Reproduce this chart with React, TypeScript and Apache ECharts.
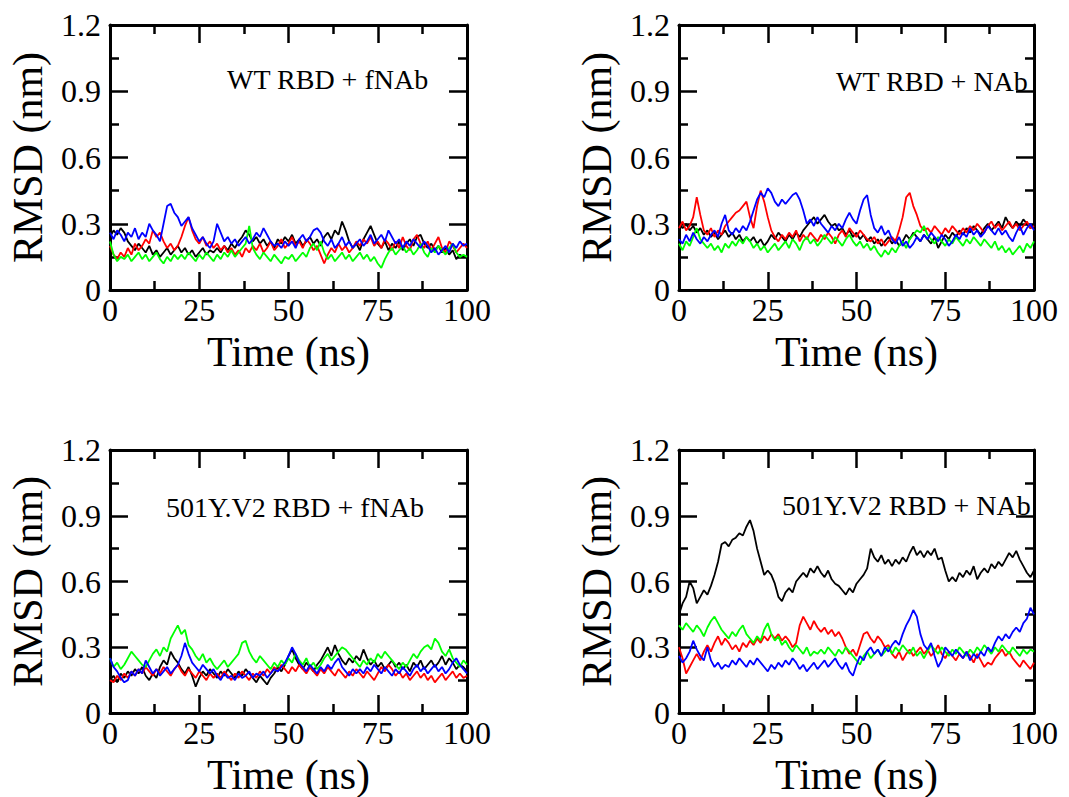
import React, { useEffect, useRef } from "react";
import * as echarts from "echarts";

// Time axis: samples every 1 ns from 0 to 100 ns
const TIME_STEP_NS = 1;

const X_TICKS = [0, 25, 50, 75, 100];
const Y_TICKS = [0, 0.3, 0.6, 0.9, 1.2];

const PANEL_TITLES = ["WT RBD + fNAb", "WT RBD + NAb", "501Y.V2 RBD + fNAb", "501Y.V2 RBD + NAb"];
const SERIES_NAMES = ["black", "red", "green", "blue"];
const SERIES_COLORS = ["#000000", "#ff0000", "#00ff00", "#0000ff"];

// ---- Panel 1: WT RBD + fNAb ----
const p1Black = [
  0.24, 0.27, 0.25, 0.28, 0.26, 0.22, 0.20, 0.18, 0.21, 0.19,
  0.17, 0.20, 0.16, 0.18, 0.15, 0.17, 0.19, 0.16, 0.18, 0.20,
  0.17, 0.19, 0.16, 0.18, 0.15, 0.17, 0.19, 0.16, 0.18, 0.17,
  0.19, 0.17, 0.20, 0.18, 0.21, 0.19, 0.22, 0.24, 0.27, 0.25,
  0.22, 0.24, 0.21, 0.23, 0.20, 0.22, 0.19, 0.23, 0.21, 0.24,
  0.22, 0.25, 0.21, 0.23, 0.20, 0.22, 0.24, 0.21, 0.23, 0.20,
  0.24, 0.26, 0.23, 0.27, 0.25, 0.31, 0.27, 0.22, 0.19, 0.21,
  0.18, 0.23, 0.26, 0.29, 0.25, 0.21, 0.19, 0.22, 0.18, 0.21,
  0.19, 0.22, 0.18, 0.21, 0.23, 0.20, 0.24, 0.25, 0.21, 0.19,
  0.21, 0.18, 0.20, 0.17, 0.19, 0.16, 0.18, 0.14, 0.16, 0.15,
  0.15,
];
const p1Red = [
  0.20, 0.16, 0.14, 0.17, 0.15, 0.19, 0.16, 0.21, 0.18, 0.20,
  0.23, 0.21, 0.27, 0.24, 0.26, 0.22, 0.19, 0.21, 0.18, 0.20,
  0.24, 0.29, 0.33, 0.27, 0.23, 0.21, 0.24, 0.20, 0.22, 0.19,
  0.21, 0.18, 0.20, 0.17, 0.19, 0.16, 0.18, 0.15, 0.19, 0.17,
  0.20, 0.18, 0.21, 0.17, 0.19, 0.22, 0.18, 0.20, 0.23, 0.19,
  0.21, 0.24, 0.20, 0.22, 0.19, 0.23, 0.21, 0.18, 0.20, 0.16,
  0.12, 0.16, 0.19, 0.17, 0.21, 0.18, 0.20, 0.17, 0.19, 0.22,
  0.20, 0.23, 0.21, 0.24, 0.20, 0.22, 0.19, 0.23, 0.21, 0.18,
  0.22, 0.19, 0.24, 0.20, 0.18, 0.23, 0.25, 0.21, 0.19, 0.22,
  0.18, 0.21, 0.24, 0.19, 0.17, 0.22, 0.20, 0.17, 0.19, 0.21,
  0.19,
];
const p1Green = [
  0.22, 0.16, 0.13, 0.15, 0.14, 0.16, 0.13, 0.15, 0.17, 0.14,
  0.16, 0.13, 0.15, 0.17, 0.14, 0.12, 0.15, 0.13, 0.16, 0.14,
  0.16, 0.14, 0.17, 0.15, 0.13, 0.16, 0.14, 0.17, 0.15, 0.13,
  0.16, 0.14, 0.17, 0.15, 0.18, 0.15, 0.17, 0.19, 0.21, 0.29,
  0.19, 0.16, 0.14, 0.17, 0.15, 0.13, 0.16, 0.14, 0.12, 0.15,
  0.14, 0.16, 0.13, 0.15, 0.17, 0.15, 0.19, 0.21, 0.18, 0.22,
  0.17, 0.14, 0.16, 0.13, 0.15, 0.17, 0.14, 0.16, 0.13, 0.15,
  0.17, 0.14, 0.16, 0.13, 0.15, 0.12, 0.10, 0.14, 0.17, 0.19,
  0.16, 0.18, 0.20, 0.17, 0.19, 0.16, 0.18, 0.21, 0.17, 0.15,
  0.19, 0.17, 0.20, 0.18, 0.16, 0.19, 0.21, 0.17, 0.15, 0.16,
  0.15,
];
const p1Blue = [
  0.26, 0.23, 0.27, 0.25, 0.22, 0.26, 0.24, 0.28, 0.23, 0.26,
  0.24, 0.30, 0.27, 0.25, 0.22, 0.30, 0.38, 0.39, 0.35, 0.33,
  0.29, 0.31, 0.33, 0.28, 0.25, 0.22, 0.24, 0.21, 0.19, 0.22,
  0.30, 0.26, 0.22, 0.24, 0.21, 0.23, 0.20, 0.22, 0.24, 0.21,
  0.23, 0.26, 0.24, 0.28, 0.25, 0.22, 0.20, 0.21, 0.19, 0.22,
  0.20, 0.22, 0.19, 0.23, 0.25, 0.22, 0.24, 0.27, 0.28, 0.26,
  0.22, 0.20, 0.23, 0.19, 0.21, 0.24, 0.20, 0.22, 0.19, 0.21,
  0.23, 0.20, 0.22, 0.25, 0.21, 0.23, 0.25, 0.22, 0.27, 0.24,
  0.21, 0.23, 0.19, 0.22, 0.20, 0.23, 0.21, 0.19, 0.22, 0.20,
  0.17, 0.19, 0.16, 0.18, 0.20, 0.17, 0.21, 0.19, 0.22, 0.20,
  0.21,
];

// ---- Panel 2: WT RBD + NAb ----
const p2Black = [
  0.30, 0.28, 0.30, 0.27, 0.29, 0.26, 0.28, 0.25, 0.27, 0.24,
  0.26, 0.23, 0.25, 0.27, 0.24, 0.26, 0.23, 0.25, 0.22, 0.24,
  0.22, 0.24, 0.21, 0.23, 0.20, 0.22, 0.25, 0.23, 0.26, 0.24,
  0.22, 0.25, 0.23, 0.26, 0.24, 0.27, 0.29, 0.31, 0.33, 0.30,
  0.32, 0.34, 0.31, 0.29, 0.30, 0.27, 0.28, 0.25, 0.27, 0.24,
  0.26, 0.23, 0.25, 0.22, 0.24, 0.21, 0.23, 0.20, 0.22, 0.24,
  0.21, 0.23, 0.20, 0.22, 0.25, 0.23, 0.26, 0.24, 0.22, 0.25,
  0.23, 0.21, 0.24, 0.19, 0.22, 0.25, 0.23, 0.26, 0.24, 0.27,
  0.25, 0.28, 0.26, 0.29, 0.27, 0.25, 0.28, 0.30, 0.27, 0.29,
  0.31, 0.28, 0.33, 0.30, 0.28, 0.31, 0.29, 0.32, 0.30, 0.28,
  0.30,
];
const p2Red = [
  0.28, 0.31, 0.27, 0.29, 0.33, 0.42, 0.34, 0.27, 0.25, 0.28,
  0.24, 0.27, 0.25, 0.29, 0.31, 0.33, 0.35, 0.36, 0.38, 0.40,
  0.33, 0.28, 0.38, 0.45, 0.40, 0.33, 0.27, 0.24, 0.22, 0.25,
  0.23, 0.26, 0.24, 0.27, 0.22, 0.25, 0.23, 0.26, 0.24, 0.22,
  0.25, 0.23, 0.26, 0.24, 0.21, 0.25, 0.27, 0.24, 0.28, 0.26,
  0.24, 0.27, 0.25, 0.23, 0.22, 0.24, 0.21, 0.23, 0.20, 0.22,
  0.24, 0.22, 0.27, 0.33, 0.42, 0.44, 0.38, 0.34, 0.29, 0.27,
  0.28, 0.26, 0.29, 0.27, 0.25, 0.28, 0.26, 0.29, 0.27, 0.25,
  0.28, 0.26, 0.29, 0.27, 0.30, 0.28, 0.26, 0.29, 0.31, 0.28,
  0.30, 0.27, 0.29, 0.31, 0.28, 0.30, 0.27, 0.29, 0.31, 0.28,
  0.29,
];
const p2Green = [
  0.21, 0.18, 0.22, 0.20, 0.24, 0.28, 0.23, 0.21, 0.19, 0.21,
  0.18, 0.20, 0.17, 0.21, 0.19, 0.22, 0.20, 0.23, 0.21, 0.24,
  0.22, 0.19, 0.21, 0.18, 0.20, 0.17, 0.19, 0.21, 0.18, 0.20,
  0.22, 0.19, 0.23, 0.21, 0.18, 0.22, 0.24, 0.21, 0.23, 0.20,
  0.22, 0.25, 0.23, 0.21, 0.24, 0.22, 0.20, 0.23, 0.25, 0.22,
  0.20, 0.22, 0.19, 0.21, 0.18, 0.20, 0.17, 0.15, 0.18, 0.16,
  0.19, 0.17, 0.20, 0.22, 0.19, 0.23, 0.25, 0.27, 0.26, 0.29,
  0.25, 0.23, 0.21, 0.24, 0.22, 0.20, 0.23, 0.21, 0.24, 0.22,
  0.20, 0.23, 0.21, 0.24, 0.22, 0.20, 0.23, 0.21, 0.19, 0.22,
  0.18, 0.20, 0.17, 0.19, 0.16, 0.18, 0.20, 0.17, 0.21, 0.19,
  0.22,
];
const p2Blue = [
  0.23, 0.21, 0.25, 0.22, 0.26, 0.23, 0.21, 0.24, 0.22, 0.25,
  0.27, 0.24, 0.30, 0.34, 0.27, 0.25, 0.28, 0.26, 0.29, 0.27,
  0.31, 0.36, 0.41, 0.44, 0.42, 0.46, 0.44, 0.40, 0.38, 0.41,
  0.39, 0.41, 0.43, 0.44, 0.41, 0.36, 0.30, 0.32, 0.29, 0.33,
  0.30, 0.28, 0.26, 0.29, 0.27, 0.30, 0.28, 0.32, 0.35, 0.32,
  0.30, 0.36, 0.41, 0.43, 0.34, 0.28, 0.26, 0.29, 0.25, 0.27,
  0.23, 0.21, 0.24, 0.20, 0.22, 0.19, 0.21, 0.24, 0.22, 0.25,
  0.23, 0.26, 0.24, 0.22, 0.25, 0.23, 0.20, 0.22, 0.25, 0.23,
  0.26, 0.24, 0.28, 0.25, 0.27, 0.24, 0.26, 0.29, 0.27, 0.25,
  0.28, 0.25, 0.27, 0.24, 0.22, 0.26, 0.29, 0.25, 0.28, 0.30,
  0.27,
];

// ---- Panel 3: 501Y.V2 RBD + fNAb ----
const p3Black = [
  0.15, 0.17, 0.14, 0.18, 0.16, 0.19, 0.17, 0.20, 0.18, 0.21,
  0.17, 0.15, 0.18, 0.16, 0.21, 0.24, 0.22, 0.28, 0.25, 0.23,
  0.20, 0.18, 0.21, 0.17, 0.12, 0.16, 0.19, 0.17, 0.20, 0.18,
  0.16, 0.19, 0.17, 0.20, 0.18, 0.16, 0.19, 0.17, 0.20, 0.18,
  0.16, 0.14, 0.17, 0.15, 0.13, 0.16, 0.18, 0.21, 0.19, 0.22,
  0.26, 0.29, 0.25, 0.22, 0.20, 0.23, 0.21, 0.19, 0.22, 0.24,
  0.27, 0.30, 0.26, 0.31, 0.27, 0.24, 0.22, 0.25, 0.23, 0.26,
  0.24, 0.29, 0.25, 0.22, 0.24, 0.21, 0.23, 0.20, 0.22, 0.24,
  0.21, 0.23, 0.20, 0.22, 0.19, 0.23, 0.21, 0.24, 0.20, 0.22,
  0.24, 0.21, 0.23, 0.26, 0.22, 0.25, 0.23, 0.20, 0.22, 0.21,
  0.19,
];
const p3Red = [
  0.15, 0.14, 0.17, 0.15, 0.18, 0.16, 0.19, 0.17, 0.20, 0.18,
  0.21, 0.19, 0.17, 0.20, 0.18, 0.21, 0.19, 0.17, 0.20, 0.22,
  0.19, 0.17, 0.20, 0.18, 0.16, 0.19, 0.17, 0.15, 0.18, 0.16,
  0.18, 0.16, 0.19, 0.17, 0.15, 0.18, 0.16, 0.19, 0.17, 0.15,
  0.18, 0.16, 0.19, 0.17, 0.20, 0.18, 0.21, 0.19, 0.22, 0.20,
  0.18, 0.21, 0.19, 0.22, 0.20, 0.18, 0.21, 0.19, 0.17, 0.20,
  0.18, 0.21, 0.19, 0.17, 0.20, 0.18, 0.16, 0.19, 0.17, 0.20,
  0.18, 0.16, 0.19, 0.17, 0.15, 0.18, 0.21, 0.19, 0.22, 0.20,
  0.17, 0.19, 0.16, 0.18, 0.15, 0.17, 0.19, 0.16, 0.18, 0.15,
  0.17, 0.14, 0.16, 0.18, 0.15, 0.17, 0.19, 0.16, 0.18, 0.16,
  0.17,
];
const p3Green = [
  0.25, 0.21, 0.23, 0.20, 0.22, 0.25, 0.28, 0.26, 0.24, 0.22,
  0.21, 0.24, 0.27, 0.29, 0.26, 0.30, 0.28, 0.34, 0.37, 0.40,
  0.36, 0.38, 0.31, 0.29, 0.26, 0.24, 0.27, 0.23, 0.25, 0.22,
  0.20, 0.22, 0.24, 0.21, 0.23, 0.25, 0.27, 0.32, 0.33, 0.28,
  0.25, 0.23, 0.26, 0.24, 0.22, 0.20, 0.23, 0.21, 0.24, 0.22,
  0.25, 0.23, 0.27, 0.24, 0.22, 0.25, 0.21, 0.23, 0.20, 0.22,
  0.25, 0.27, 0.24, 0.26, 0.28, 0.30, 0.29, 0.27, 0.25, 0.23,
  0.21, 0.24, 0.22, 0.25, 0.23, 0.27, 0.25, 0.28, 0.26, 0.24,
  0.22, 0.20, 0.23, 0.21, 0.24, 0.27, 0.25, 0.28, 0.30, 0.31,
  0.29, 0.34, 0.32, 0.28, 0.26, 0.29, 0.25, 0.23, 0.21, 0.24,
  0.22,
];
const p3Blue = [
  0.25, 0.21, 0.19, 0.16, 0.14, 0.15, 0.19, 0.17, 0.20, 0.18,
  0.24, 0.21, 0.18, 0.20, 0.17, 0.19, 0.21, 0.18, 0.20, 0.22,
  0.26, 0.32, 0.27, 0.23, 0.21, 0.19, 0.22, 0.20, 0.18, 0.20,
  0.17, 0.15, 0.18, 0.16, 0.17, 0.15, 0.18, 0.16, 0.17, 0.19,
  0.16, 0.18, 0.17, 0.19, 0.16, 0.18, 0.20, 0.19, 0.21, 0.23,
  0.26, 0.30, 0.27, 0.23, 0.21, 0.19, 0.22, 0.20, 0.18, 0.21,
  0.19, 0.22, 0.20, 0.23, 0.25, 0.21, 0.19, 0.17, 0.20, 0.18,
  0.20, 0.18, 0.21, 0.19, 0.22, 0.20, 0.18, 0.21, 0.19, 0.17,
  0.20, 0.18, 0.21, 0.19, 0.17, 0.20, 0.22, 0.19, 0.21, 0.18,
  0.20, 0.22, 0.19, 0.21, 0.18, 0.20, 0.23, 0.25, 0.22, 0.20,
  0.18,
];

// ---- Panel 4: 501Y.V2 RBD + NAb ----
const p4Black = [
  0.45, 0.50, 0.53, 0.60, 0.57, 0.50, 0.53, 0.56, 0.54, 0.58,
  0.63, 0.69, 0.77, 0.78, 0.76, 0.79, 0.80, 0.82, 0.81, 0.85,
  0.88, 0.83, 0.75, 0.69, 0.63, 0.65, 0.63, 0.59, 0.53, 0.51,
  0.55, 0.57, 0.55, 0.60, 0.62, 0.64, 0.62, 0.66, 0.64, 0.67,
  0.64, 0.62, 0.65, 0.61, 0.59, 0.58, 0.56, 0.54, 0.57, 0.55,
  0.59, 0.61, 0.63, 0.66, 0.75, 0.71, 0.69, 0.72, 0.68, 0.70,
  0.67, 0.70, 0.68, 0.71, 0.69, 0.73, 0.76, 0.72, 0.74, 0.71,
  0.74, 0.72, 0.75, 0.70, 0.71, 0.65, 0.60, 0.62, 0.60, 0.64,
  0.62, 0.65, 0.63, 0.67, 0.61, 0.64, 0.66, 0.64, 0.68, 0.66,
  0.69, 0.67, 0.70, 0.73, 0.71, 0.74, 0.70, 0.67, 0.64, 0.62,
  0.65,
];
const p4Red = [
  0.30, 0.25, 0.18, 0.21, 0.24, 0.27, 0.24, 0.28, 0.31, 0.28,
  0.32, 0.35, 0.31, 0.34, 0.32, 0.29, 0.31, 0.28, 0.32, 0.30,
  0.33, 0.31, 0.34, 0.32, 0.35, 0.33, 0.36, 0.34, 0.36, 0.33,
  0.35, 0.33, 0.30, 0.32, 0.40, 0.44, 0.41, 0.38, 0.42, 0.39,
  0.37, 0.39, 0.36, 0.38, 0.35, 0.37, 0.34, 0.30, 0.27, 0.29,
  0.26, 0.31, 0.36, 0.37, 0.34, 0.32, 0.35, 0.33, 0.30, 0.31,
  0.27, 0.25, 0.28, 0.24, 0.27, 0.29, 0.26, 0.28, 0.30, 0.27,
  0.29, 0.26, 0.28, 0.31, 0.27, 0.25, 0.28, 0.26, 0.24, 0.27,
  0.25, 0.28, 0.26, 0.23, 0.27, 0.24, 0.21, 0.23, 0.22, 0.25,
  0.27, 0.29, 0.26, 0.28, 0.25, 0.23, 0.21, 0.24, 0.22, 0.20,
  0.23,
];
const p4Green = [
  0.40, 0.38, 0.41, 0.39, 0.37, 0.40, 0.38, 0.35, 0.39, 0.42,
  0.44, 0.41, 0.38, 0.36, 0.34, 0.37, 0.35, 0.38, 0.40, 0.36,
  0.34, 0.32, 0.35, 0.33, 0.38, 0.41, 0.36, 0.33, 0.35, 0.31,
  0.33, 0.30, 0.28, 0.31, 0.29, 0.27, 0.30, 0.26, 0.28, 0.27,
  0.29, 0.27, 0.30, 0.28, 0.26, 0.29, 0.27, 0.30, 0.28, 0.26,
  0.24, 0.22, 0.26, 0.28, 0.25, 0.27, 0.29, 0.26, 0.28, 0.30,
  0.27, 0.30, 0.28, 0.31, 0.29, 0.27, 0.30, 0.26, 0.28, 0.25,
  0.28, 0.31, 0.29, 0.27, 0.30, 0.28, 0.26, 0.29, 0.27, 0.30,
  0.28, 0.26, 0.29, 0.27, 0.30, 0.28, 0.31, 0.29, 0.27, 0.30,
  0.28, 0.31, 0.29, 0.27, 0.30, 0.28, 0.26, 0.29, 0.27, 0.29,
  0.28,
];
const p4Blue = [
  0.26, 0.23, 0.25, 0.28, 0.33, 0.29, 0.26, 0.24, 0.30, 0.24,
  0.21, 0.23, 0.20, 0.22, 0.21, 0.24, 0.22, 0.25, 0.23, 0.21,
  0.24, 0.22, 0.25, 0.23, 0.21, 0.19, 0.22, 0.20, 0.23, 0.21,
  0.24, 0.22, 0.25, 0.23, 0.20, 0.22, 0.19, 0.21, 0.23, 0.20,
  0.22, 0.24, 0.21, 0.23, 0.25, 0.22, 0.20, 0.23, 0.19, 0.17,
  0.22, 0.26, 0.24, 0.28, 0.30, 0.27, 0.29, 0.26, 0.30, 0.28,
  0.31, 0.33, 0.31, 0.36, 0.40, 0.43, 0.47, 0.44, 0.36, 0.31,
  0.29, 0.32, 0.26, 0.21, 0.24, 0.30, 0.28, 0.26, 0.29, 0.27,
  0.25, 0.28, 0.24, 0.27, 0.25, 0.28, 0.26, 0.30, 0.28, 0.32,
  0.35, 0.33, 0.36, 0.34, 0.37, 0.39, 0.37, 0.41, 0.43, 0.48,
  0.45,
];

const PANEL_DATA = [
  [p1Black, p1Red, p1Green, p1Blue],
  [p2Black, p2Red, p2Green, p2Blue],
  [p3Black, p3Red, p3Green, p3Blue],
  [p4Black, p4Red, p4Green, p4Blue],
];

const FONT = "Liberation Serif";

const GRIDS = [
  { left: 110, top: 25, width: 357, height: 265 },
  { left: 679, top: 25, width: 355, height: 265 },
  { left: 110, top: 450, width: 357, height: 265 },
  { left: 679, top: 450, width: 355, height: 265 },
];
const TITLE_POS = [
  { x: 227, y: 79 },
  { x: 836, y: 81 },
  { x: 166, y: 507 },
  { x: 782, y: 505 },
];

function buildOption() {
  const xAxis: any[] = [];
  const yAxis: any[] = [];
  const series: any[] = [];
  const lineStyle = { color: "#000", width: 3 };
  const tickStyle = { color: "#000", width: 2.5 };
  GRIDS.forEach((_, g) => {
    const base = {
      gridIndex: g,
      type: "value",
      min: X_TICKS[0],
      max: X_TICKS[X_TICKS.length - 1],
      interval: X_TICKS[1] - X_TICKS[0],
      axisLine: { show: true, onZero: false, lineStyle },
      axisTick: { show: true, inside: true, length: 18, lineStyle: tickStyle },
      minorTick: { show: true, splitNumber: 2, length: 9, lineStyle: tickStyle },
      splitLine: { show: false },
    };
    xAxis.push({
      ...base,
      position: "bottom",
      axisLabel: { show: true, fontSize: 32, color: "#000", fontFamily: FONT, margin: 4 },
      name: "Time (ns)",
      nameLocation: "middle",
      nameGap: 41,
      nameTextStyle: { fontSize: 42, color: "#000", fontFamily: FONT },
    });
    xAxis.push({ ...base, position: "top", axisLabel: { show: false } });
    const ybase = {
      gridIndex: g,
      type: "value",
      min: Y_TICKS[0],
      max: Y_TICKS[Y_TICKS.length - 1],
      interval: Y_TICKS[1] - Y_TICKS[0],
      axisLine: { show: true, onZero: false, lineStyle },
      axisTick: { show: true, inside: true, length: 18, lineStyle: tickStyle },
      minorTick: { show: true, splitNumber: 2, length: 9, lineStyle: tickStyle },
      splitLine: { show: false },
    };
    yAxis.push({
      ...ybase,
      position: "left",
      axisLabel: {
        show: true,
        fontSize: 32,
        color: "#000",
        fontFamily: FONT,
        margin: 9,
        formatter: (v: number) => String(Math.round(v * 10) / 10),
      },
      name: "RMSD (nm)",
      nameLocation: "middle",
      nameGap: 61,
      nameTextStyle: { fontSize: 42, color: "#000", fontFamily: FONT },
    });
    yAxis.push({ ...ybase, position: "right", axisLabel: { show: false } });

    PANEL_DATA[g].forEach((vals, s) => {
      series.push({
        type: "line",
        name: `${PANEL_TITLES[g]} ${SERIES_NAMES[s]}`,
        xAxisIndex: 2 * g,
        yAxisIndex: 2 * g,
        data: vals.map((v, i) => [i * TIME_STEP_NS, v]),
        showSymbol: false,
        symbol: "none",
        clip: true,
        lineStyle: { color: SERIES_COLORS[s], width: 1.8 },
        itemStyle: { color: SERIES_COLORS[s] },
      });
    });
  });

  const graphic = PANEL_TITLES.map((t, g) => ({
    type: "text",
    x: TITLE_POS[g].x,
    y: TITLE_POS[g].y,
    z: 100,
    style: {
      text: t,
      fontSize: 28,
      fontFamily: FONT,
      fill: "#000",
      align: "left",
      verticalAlign: "middle",
    },
  }));

  return {
    animation: false,
    backgroundColor: "#fff",
    textStyle: { fontFamily: FONT, color: "#000" },
    grid: GRIDS.map((g) => ({ ...g, containLabel: false })),
    xAxis,
    yAxis,
    series,
    graphic,
  };
}

export default function App() {
  const ref = useRef<HTMLDivElement>(null);
  useEffect(() => {
    if (!ref.current) return;
    const chart = echarts.init(ref.current, undefined, { renderer: "svg" });
    chart.setOption(buildOption() as any);
    return () => chart.dispose();
  }, []);
  return (
    <div
      ref={ref}
      style={{ position: "absolute", left: 0, top: 0, width: 1069, height: 797, background: "#fff" }}
    />
  );
}
